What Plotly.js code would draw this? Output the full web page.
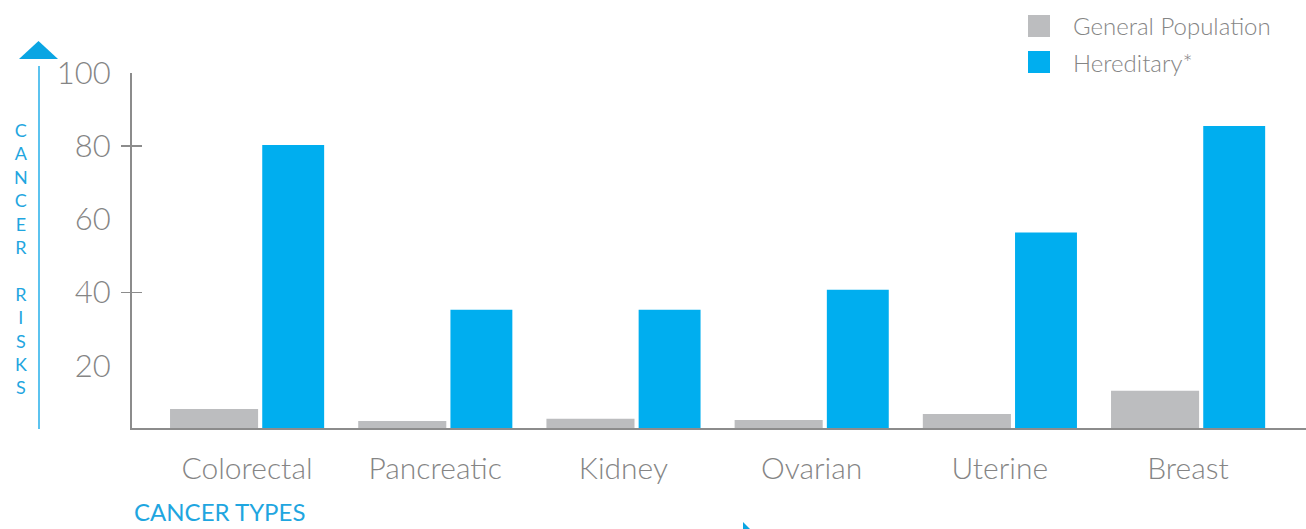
<!DOCTYPE html>
<html>
<head>
<meta charset="utf-8">
<script src="https://cdn.plot.ly/plotly-3.0.1.min.js"></script>
<style>
html,body{margin:0;padding:0;background:#fff;}
#chart{width:1306px;height:529px;}
</style>
</head>
<body>
<div id="chart"></div>
<script>
// ---- data ----
var categories = ["Colorectal", "Pancreatic", "Kidney", "Ovarian", "Uterine", "Breast"];
var generalPopulation = [8.2, 4.9, 5.5, 5.2, 6.8, 13.2];
var hereditary = [80.3, 35.3, 35.3, 40.8, 56.4, 85.5];
var seriesNames = ["General Population", "Hereditary*"];
var yTickVals = [20, 40, 60, 80, 100];
var yCrossTicks = [40, 80];
var yTitle = "CANCER RISKS";
var xTitle = "CANCER TYPES";

// ---- styles ----
var grayColor = "#bcbdbf";
var blueColor = "#00aeef";
var titleBlue = "#1fa6e0";
var axisColor = "#8c8c8c";
var labelColor = "#858585";
var FONT = "Lato, 'Open Sans', sans-serif";

// plot box in pixels (for paper coordinate helpers)
var W = 1306, H = 529, L = 132, R = 0, T = 73, B = 101;
function px(x){ return (x - L) / (W - L - R); }
function py(y){ return (H - B - y) / (H - T - B); }

var traces = [
  {type:"bar", name:seriesNames[0], x:categories, y:generalPopulation,
   marker:{color:grayColor}, width:0.468, offset:-0.409, showlegend:false, hoverinfo:"x+y"},
  {type:"bar", name:seriesNames[1], x:categories, y:hereditary,
   marker:{color:blueColor}, width:0.329, offset:0.081, showlegend:false, hoverinfo:"x+y"},
  // carriers for the two tick-only overlay axes (draw nothing)
  {type:"scatter", mode:"none", x:categories, y:hereditary, yaxis:"y2", showlegend:false, hoverinfo:"skip"},
  {type:"scatter", mode:"none", x:categories, y:hereditary, yaxis:"y3", showlegend:false, hoverinfo:"skip"}
];

var annotations = [];
// stacked vertical y title (one letter per line)
annotations.push({xref:"paper", yref:"paper", x:px(21), y:py(258),
  xanchor:"center", yanchor:"middle", showarrow:false, align:"center",
  text:yTitle.split("").map(function(c){ return c === " " ? "" : c; }).join("<br>"),
  font:{family:FONT, size:18, color:titleBlue}});
// x title
annotations.push({xref:"paper", yref:"paper", x:px(132), y:py(512), xanchor:"left", yanchor:"middle",
  showarrow:false, text:xTitle, font:{family:FONT, size:24, color:titleBlue}});
// legend labels
var legendColors = [grayColor, blueColor];
var legendRowsY = [26, 62];
var shapes = [];
seriesNames.forEach(function(n, i){
  annotations.push({xref:"paper", yref:"paper", x:px(1071), y:py(legendRowsY[i]), xanchor:"left", yanchor:"middle",
    showarrow:false, text:n, font:{family:FONT, size:24, weight:300, color:labelColor}});
  shapes.push({type:"rect", xref:"paper", yref:"paper", x0:px(1028), x1:px(1050),
    y0:py(legendRowsY[i]-11), y1:py(legendRowsY[i]+11), line:{width:0}, fillcolor:legendColors[i]});
});
// decorative arrow on the y title
shapes.push({type:"line", xref:"paper", yref:"paper", x0:px(39), x1:px(39), y0:py(66), y1:py(429),
  line:{color:"#5cc3ef", width:2}});
shapes.push({type:"path", xref:"paper", yref:"paper", fillcolor:"#0aa5e3", line:{width:0},
  path:"M"+px(19)+","+py(59)+" L"+px(58)+","+py(59)+" L"+px(38.5)+","+py(41)+" Z"});
// small arrow near bottom
shapes.push({type:"path", xref:"paper", yref:"paper", fillcolor:"#0aa5e3", line:{width:0},
  path:"M"+px(743)+","+py(522)+" L"+px(743)+","+py(560)+" L"+px(762)+","+py(541)+" Z"});

var layout = {
  width:W, height:H,
  margin:{l:L, r:R, t:T, b:B, pad:0},
  paper_bgcolor:"#fff", plot_bgcolor:"#fff",
  barmode:"overlay",
  showlegend:false,
  xaxis:{type:"category", range:[-0.611, 5.627], showgrid:false, zeroline:false,
    showline:true, linecolor:axisColor, linewidth:2, ticks:"", ticklabelstandoff:13,
    tickfont:{family:FONT, size:30, weight:300, color:labelColor}, fixedrange:true},
  yaxis:{range:[3, 100], tickvals:yTickVals, showgrid:false, zeroline:false,
    showline:true, linecolor:axisColor, linewidth:2, ticks:"", ticklabelstandoff:13,
    tickfont:{family:FONT, size:31, weight:300, color:labelColor}, fixedrange:true},
  yaxis2:{overlaying:"y", matches:"y", side:"left", tickvals:yCrossTicks, ticks:"outside", ticklen:10,
    tickwidth:1.5, tickcolor:axisColor, showticklabels:false, showgrid:false, zeroline:false, showline:false, fixedrange:true},
  yaxis3:{overlaying:"y", matches:"y", side:"left", tickvals:yCrossTicks, ticks:"inside", ticklen:10,
    tickwidth:1.5, tickcolor:axisColor, showticklabels:false, showgrid:false, zeroline:false, showline:false, fixedrange:true},
  annotations:annotations,
  shapes:shapes,
  font:{family:FONT}
};

Plotly.newPlot("chart", traces, layout, {displayModeBar:false, staticPlot:true});
</script>
</body>
</html>
